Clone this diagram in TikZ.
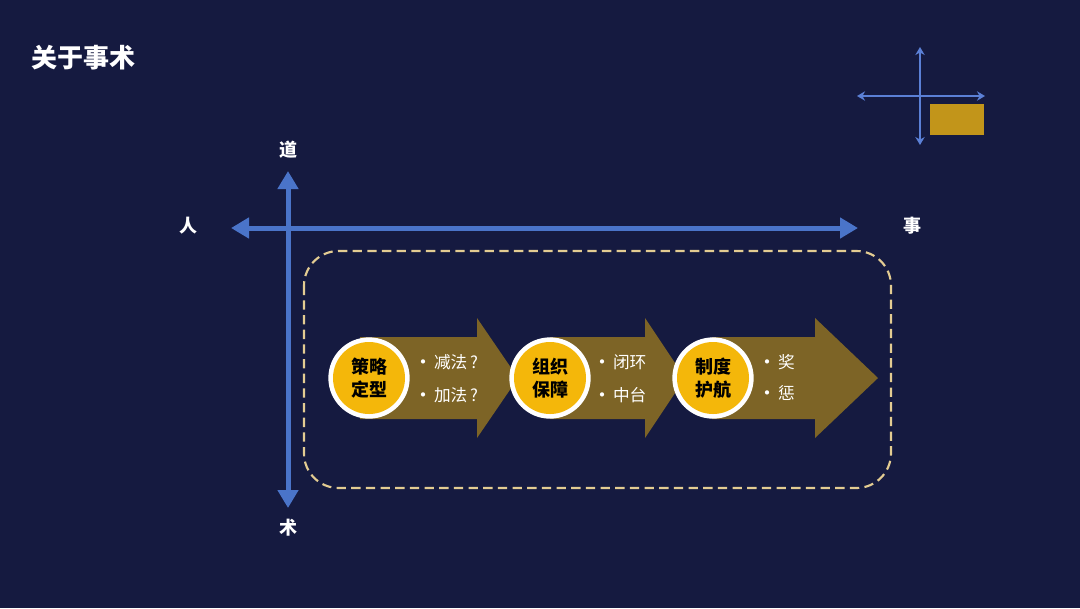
\documentclass[tikz,border=0pt]{standalone}
\usepackage{fontspec}
\setmainfont{Noto Sans CJK SC}
\usetikzlibrary{arrows.meta}
\definecolor{bg}{HTML}{151A40}
\definecolor{axisblue}{HTML}{4A74C9}
\definecolor{iconblue}{HTML}{5B80D6}
\definecolor{olive}{HTML}{7D6426}
\definecolor{gold}{HTML}{F4B70A}
\definecolor{dashc}{HTML}{E3CC92}
\definecolor{boxgold}{HTML}{C2951A}
\newcommand{\bdot}{\raisebox{-1.2pt}{\fontsize{15}{14}\selectfont•}\hspace{-1.5pt}}
\tikzset{
  axis/.style={draw=axisblue, line width=3.75pt, {Triangle[length=13.5pt,width=15pt]}-{Triangle[length=13.5pt,width=15pt]}},
  iconaxis/.style={draw=iconblue, line width=1.6pt, {Stealth[length=6pt,width=7pt]}-{Stealth[length=6pt,width=7pt]}},
  axislabel/.style={text=white, font=\fontsize{13.5}{15}\selectfont\bfseries, inner sep=0pt},
  procarrow/.style={fill=olive},
  ring/.style={circle, fill=white, minimum size=61pt, inner sep=0pt},
  disc/.style={circle, fill=gold, minimum size=54pt, inner sep=0pt, align=center, text=black, font=\fontsize{13.5}{17}\selectfont\bfseries},
  bullet/.style={text=white, anchor=west, inner sep=0pt, font=\fontsize{12.5}{14}\selectfont},
}
\begin{document}
\begin{tikzpicture}[x=0.75pt, y=-0.75pt]
\fill[bg] (0,0) rectangle (1080,608);
\useasboundingbox (0,0) rectangle (1080,608);

% title
\node[text=white, anchor=west, inner sep=0pt, font=\fontsize{19.5}{22}\selectfont\bfseries] (title) at (31,58) {关于事术};

% mini icon
\coordinate (il) at (857,96);
\coordinate (ir) at (985,96);
\coordinate (it) at (920,47);
\coordinate (ib) at (920,145);
\draw[iconaxis] (il) -- (ir);
\draw[iconaxis] (it) -- (ib);
\fill[boxgold] (930,104) rectangle (984,135);

% dashed frame
\draw[dashc, line width=1.6pt, dash pattern=on 7pt off 4pt, rounded corners=26pt] (304,251) rectangle (891,488);

% main axes
\coordinate (hl) at (231,228);
\coordinate (hr) at (858,228);
\coordinate (vt) at (288,171);
\coordinate (vb) at (288,508);
\draw[axis] (hl) -- (hr);
\draw[axis] (vt) -- (vb);
\node[axislabel] (dao) at (288,150) {道};
\node[axislabel] (ren) at (188,226) {人};
\node[axislabel] (shi) at (912,226) {事};
\node[axislabel] (shu) at (288,528) {术};

% process arrows
\foreach \a/\b/\c in {360/477/518, 550/645/685, 712/815/878} {
  \fill[procarrow] (\a,337) -- (\b,337) -- (\b,318) -- (\c,378) -- (\b,438) -- (\b,419) -- (\a,419) -- cycle;
}

% circles
\node[ring] (r1) at (369,378) {};
\node[disc] (c1) at (369,378) {策略\\定型};
\node[ring] (r2) at (550,378) {};
\node[disc] (c2) at (550,378) {组织\\保障};
\node[ring] (r3) at (713,378) {};
\node[disc] (c3) at (713,378) {制度\\护航};

% bullets
\node[bullet] (b11) at (413,362) {\bdot\,减法\,?};
\node[bullet] (b12) at (413,395) {\bdot\,加法\,?};
\node[bullet] (b21) at (592,362) {\bdot\,闭环};
\node[bullet] (b22) at (592,395) {\bdot\,中台};
\node[bullet] (b31) at (757,362) {\bdot\,奖};
\node[bullet] (b32) at (757,393) {\bdot\,惩};
\end{tikzpicture}
\end{document}
